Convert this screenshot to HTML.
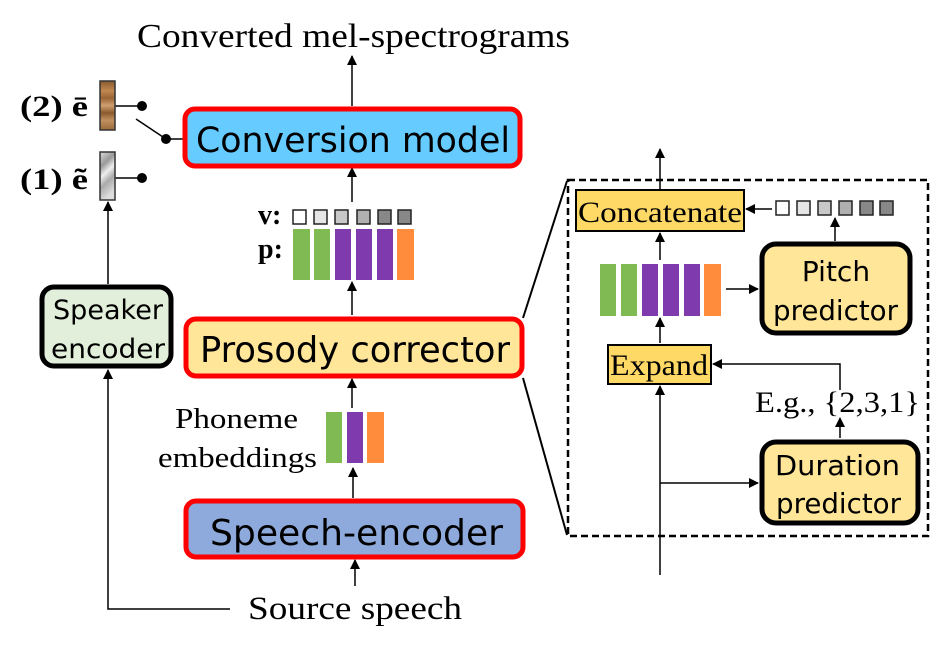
<!DOCTYPE html>
<html><head><meta charset="utf-8"><style>body{margin:0;background:#fff}</style></head><body>
<svg width="944" height="654" viewBox="0 0 944 654" xmlns="http://www.w3.org/2000/svg">
<defs>
<marker id="a" markerWidth="10" markerHeight="10" refX="9" refY="5" orient="auto" markerUnits="userSpaceOnUse"><path d="M0,0 L10,5 L0,10 z" fill="#000"/></marker>
<linearGradient id="wood" x1="0" y1="0" x2="0" y2="1">
<stop offset="0" stop-color="#8a5a2e"/><stop offset="0.2" stop-color="#c08850"/><stop offset="0.35" stop-color="#9a6535"/><stop offset="0.5" stop-color="#d0a070"/><stop offset="0.65" stop-color="#8a5a2e"/><stop offset="0.8" stop-color="#c09060"/><stop offset="1" stop-color="#9a6a3a"/></linearGradient>
<linearGradient id="gr" x1="0" y1="0" x2="0.3" y2="1">
<stop offset="0" stop-color="#ddd"/><stop offset="0.3" stop-color="#999"/><stop offset="0.5" stop-color="#eee"/><stop offset="0.7" stop-color="#aaa"/><stop offset="1" stop-color="#ddd"/></linearGradient>
</defs>
<text x="137" y="47" font-family="Liberation Serif, serif" font-size="34" textLength="433" lengthAdjust="spacingAndGlyphs">Converted mel-spectrograms</text>
<g stroke="#000" stroke-width="1.5" fill="none">
<line x1="352" y1="106" x2="352" y2="56" marker-end="url(#a)"/>
<line x1="352" y1="202" x2="352" y2="168" marker-end="url(#a)"/>
<line x1="352" y1="315" x2="352" y2="282" marker-end="url(#a)"/>
<line x1="352" y1="408" x2="352" y2="379" marker-end="url(#a)"/>
<line x1="353" y1="498" x2="353" y2="468" marker-end="url(#a)"/>
<line x1="355" y1="586" x2="355" y2="560" marker-end="url(#a)"/>
<polyline points="230,609 108,609 108,370" marker-end="url(#a)"/>
<line x1="108" y1="284" x2="108" y2="202" marker-end="url(#a)"/>
<line x1="115" y1="106" x2="142" y2="106"/>
<line x1="115" y1="178" x2="142" y2="178"/>
<line x1="136" y1="119" x2="166" y2="139"/>
<line x1="166" y1="139" x2="186" y2="139"/>
</g>
<circle cx="142" cy="106" r="5" fill="#000"/><circle cx="142" cy="178" r="5" fill="#000"/><circle cx="166" cy="139" r="5" fill="#000"/>
<rect x="100" y="81" width="15" height="49" fill="url(#wood)" stroke="#333" stroke-width="1.5"/>
<rect x="100" y="152" width="15" height="48" fill="url(#gr)" stroke="#333" stroke-width="1.5"/>
<g font-family="Liberation Serif, serif" font-weight="bold">
<text x="20" y="116" font-size="30" textLength="68" lengthAdjust="spacingAndGlyphs">(2) ē</text>
<text x="20" y="189" font-size="30" textLength="68" lengthAdjust="spacingAndGlyphs">(1) ẽ</text>
<text x="258" y="224" font-size="28">v:</text>
<text x="258" y="258" font-size="28">p:</text>
</g>
<rect x="185" y="109" width="335" height="57" rx="10" fill="#66CCFF" stroke="#f00" stroke-width="5"/>
<text x="196" y="152" font-family="DejaVu Sans, sans-serif" font-size="35" textLength="314" lengthAdjust="spacingAndGlyphs">Conversion model</text>
<g stroke="#222" stroke-width="1.5">
<rect x="293" y="210" width="13" height="14" fill="#fff"/>
<rect x="314" y="210" width="13" height="14" fill="#e6e6e6"/>
<rect x="335" y="210" width="13" height="14" fill="#c8c8c8"/>
<rect x="357" y="210" width="13" height="14" fill="#b0b0b0"/>
<rect x="378" y="210" width="13" height="14" fill="#888"/>
<rect x="398" y="210" width="13" height="14" fill="#888"/>
</g>
<rect x="293" y="229" width="17" height="51" fill="#7FBA52"/>
<rect x="314" y="229" width="16" height="51" fill="#7FBA52"/>
<rect x="335" y="229" width="16" height="51" fill="#7F3BAD"/>
<rect x="356" y="229" width="16" height="51" fill="#7F3BAD"/>
<rect x="377" y="229" width="16" height="51" fill="#7F3BAD"/>
<rect x="397" y="229" width="17" height="51" fill="#FF8C3C"/>
<rect x="42" y="287" width="129" height="79" rx="12" fill="#E2EFDA" stroke="#000" stroke-width="5"/>
<text x="53" y="319" font-family="DejaVu Sans, sans-serif" font-size="27" textLength="110" lengthAdjust="spacingAndGlyphs">Speaker</text>
<text x="51" y="358" font-family="DejaVu Sans, sans-serif" font-size="27" textLength="114" lengthAdjust="spacingAndGlyphs">encoder</text>
<rect x="186" y="319" width="336" height="57" rx="10" fill="#FFE699" stroke="#f00" stroke-width="5"/>
<text x="200" y="362" font-family="DejaVu Sans, sans-serif" font-size="36" textLength="310" lengthAdjust="spacingAndGlyphs">Prosody corrector</text>
<text x="175" y="428" font-family="Liberation Serif, serif" font-size="29" textLength="123" lengthAdjust="spacingAndGlyphs">Phoneme</text>
<text x="158" y="467" font-family="Liberation Serif, serif" font-size="29" textLength="159" lengthAdjust="spacingAndGlyphs">embeddings</text>
<rect x="326" y="412" width="16" height="51" fill="#7FBA52"/>
<rect x="347" y="412" width="16" height="51" fill="#7F3BAD"/>
<rect x="367" y="412" width="17" height="51" fill="#FF8C3C"/>
<rect x="186" y="501" width="337" height="56" rx="10" fill="#8EA9DB" stroke="#f00" stroke-width="5"/>
<text x="210" y="545" font-family="DejaVu Sans, sans-serif" font-size="36" textLength="293" lengthAdjust="spacingAndGlyphs">Speech-encoder</text>
<text x="248" y="619" font-family="Liberation Serif, serif" font-size="33" textLength="214" lengthAdjust="spacingAndGlyphs">Source speech</text>
<g stroke="#000" stroke-width="2" fill="none">
<line x1="523" y1="318" x2="567" y2="181"/>
<line x1="523" y1="378" x2="567" y2="535"/>
</g>
<rect x="568" y="180" width="360" height="356" fill="none" stroke="#000" stroke-width="2.5" stroke-dasharray="7,4"/>
<g stroke="#000" stroke-width="1.5" fill="none">
<line x1="660" y1="190" x2="660" y2="149" marker-end="url(#a)"/>
<line x1="772" y1="209" x2="746" y2="209" marker-end="url(#a)"/>
<line x1="835" y1="241" x2="835" y2="218" marker-end="url(#a)"/>
<line x1="660" y1="260" x2="660" y2="233" marker-end="url(#a)"/>
<line x1="726" y1="289" x2="758" y2="289" marker-end="url(#a)"/>
<line x1="660" y1="343" x2="660" y2="318" marker-end="url(#a)"/>
<polyline points="840,390 840,364 713,364" marker-end="url(#a)"/>
<line x1="840" y1="438" x2="840" y2="418" marker-end="url(#a)"/>
<line x1="660" y1="575" x2="660" y2="386" marker-end="url(#a)"/>
<line x1="660" y1="483" x2="758" y2="483" marker-end="url(#a)"/>
</g>
<rect x="576" y="190" width="168" height="41" fill="#FFD966" stroke="#000" stroke-width="2"/>
<text x="578" y="222" font-family="Liberation Serif, serif" font-size="30" textLength="164" lengthAdjust="spacingAndGlyphs">Concatenate</text>
<g stroke="#222" stroke-width="1.5">
<rect x="776" y="201" width="13" height="14" fill="#fff"/>
<rect x="797" y="201" width="13" height="14" fill="#e6e6e6"/>
<rect x="818" y="201" width="13" height="14" fill="#c8c8c8"/>
<rect x="839" y="201" width="13" height="14" fill="#b0b0b0"/>
<rect x="860" y="201" width="13" height="14" fill="#888"/>
<rect x="880" y="201" width="13" height="14" fill="#888"/>
</g>
<rect x="762" y="244" width="148" height="89" rx="14" fill="#FFE699" stroke="#000" stroke-width="5"/>
<text x="836" y="281" font-family="DejaVu Sans, sans-serif" font-size="28" text-anchor="middle">Pitch</text>
<text x="773" y="320" font-family="DejaVu Sans, sans-serif" font-size="28" textLength="125" lengthAdjust="spacingAndGlyphs">predictor</text>
<rect x="600" y="264" width="16" height="52" fill="#7FBA52"/>
<rect x="621" y="264" width="16" height="52" fill="#7FBA52"/>
<rect x="642" y="264" width="16" height="52" fill="#7F3BAD"/>
<rect x="663" y="264" width="16" height="52" fill="#7F3BAD"/>
<rect x="684" y="264" width="16" height="52" fill="#7F3BAD"/>
<rect x="704" y="264" width="17" height="52" fill="#FF8C3C"/>
<rect x="608" y="345" width="103" height="39" fill="#FFD966" stroke="#000" stroke-width="2"/>
<text x="610" y="375" font-family="Liberation Serif, serif" font-size="30" textLength="98" lengthAdjust="spacingAndGlyphs">Expand</text>
<text x="755" y="412" font-family="Liberation Serif, serif" font-size="30" textLength="165" lengthAdjust="spacingAndGlyphs">E.g., {2,3,1}</text>
<rect x="762" y="442" width="156" height="81" rx="14" fill="#FFE699" stroke="#000" stroke-width="5"/>
<text x="775" y="475" font-family="DejaVu Sans, sans-serif" font-size="28" textLength="125" lengthAdjust="spacingAndGlyphs">Duration</text>
<text x="776" y="513" font-family="DejaVu Sans, sans-serif" font-size="28" textLength="125" lengthAdjust="spacingAndGlyphs">predictor</text>
</svg>
</body></html>
